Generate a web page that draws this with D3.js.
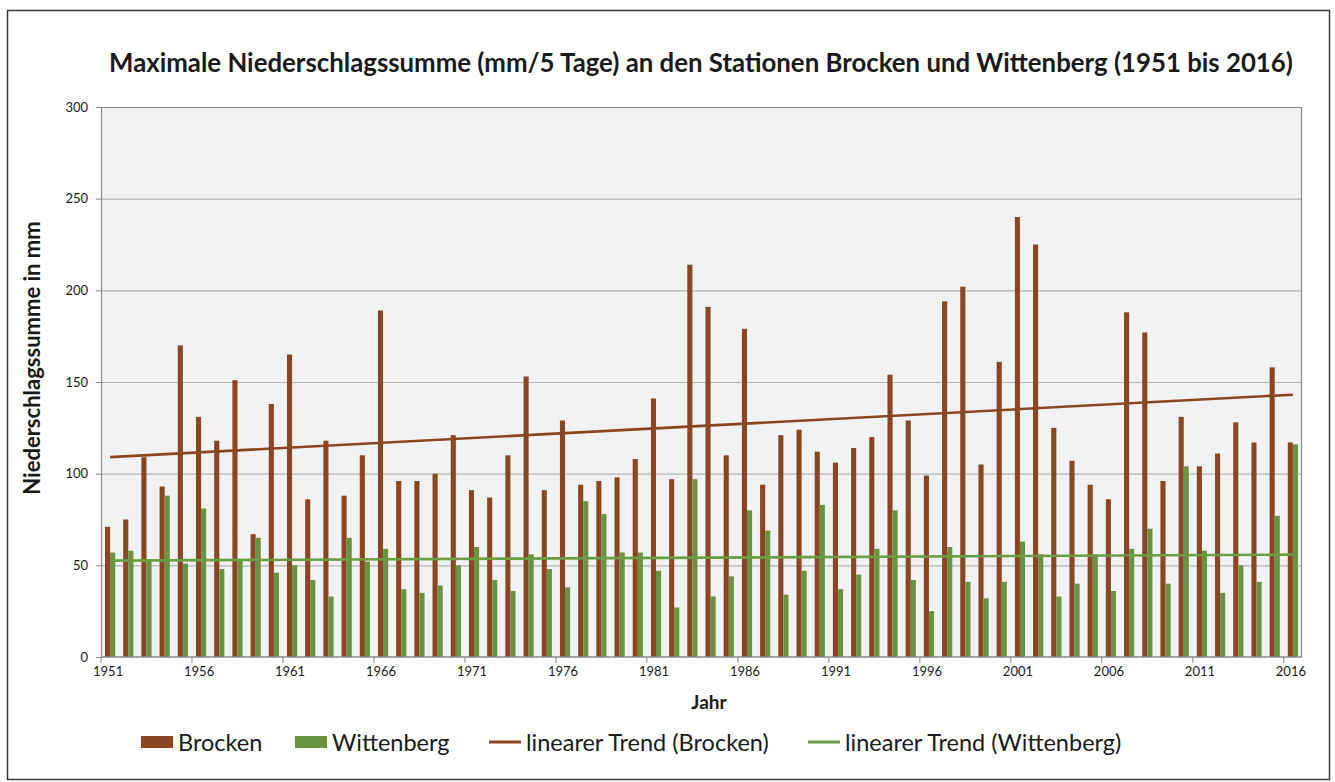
<!DOCTYPE html>
<html>
<head>
<meta charset="utf-8">
<script src="https://cdn.jsdelivr.net/npm/d3@7"></script>
<style>
  body { margin: 0; background: #fff; }
  text { font-family: Lato, "Open Sans", sans-serif; fill: #1a1a1a; }
</style>
</head>
<body>
<svg></svg>
<script>
// Maximale Niederschlagssumme (mm/5 Tage), Brocken und Wittenberg
let years = d3.range(1951, 2017);

let brocken = [
  71, 75, 109, 93, 170, 131, 118, 151, 67, 138,
  165, 86, 118, 88, 110, 189, 96, 96, 100, 121,
  91, 87, 110, 153, 91, 129, 94, 96, 98, 108,
  141, 97, 214, 191, 110, 179, 94, 121, 124, 112,
  106, 114, 120, 154, 129, 99, 194, 202, 105, 161,
  240, 225, 125, 107, 94, 86, 188, 177, 96, 131,
  104, 111, 128, 117, 158, 117
];

let wittenberg = [
  57, 58, 53, 88, 51, 81, 48, 53, 65, 46,
  50, 42, 33, 65, 52, 59, 37, 35, 39, 50,
  60, 42, 36, 56, 48, 38, 85, 78, 57, 57,
  47, 27, 97, 33, 44, 80, 69, 34, 47, 83,
  37, 45, 59, 80, 42, 25, 60, 41, 32, 41,
  63, 56, 33, 40, 56, 36, 59, 70, 40, 104,
  58, 35, 50, 41, 77, 116
];

let yTicks = [0, 50, 100, 150, 200, 250, 300];
let xTickYears = [1951, 1956, 1961, 1966, 1971, 1976, 1981, 1986, 1991, 1996, 2001, 2006, 2011, 2016];
let seriesNames = ["Brocken", "Wittenberg"];
let colors = { Brocken: "#8b4520", Wittenberg: "#679343" };
let trendColors = { Brocken: "#8b4520", Wittenberg: "#6b9d42" };

let width = 1335;
let height = 782;
let plotLeft = 101, plotRight = 1302, plotTop = 107, plotBottom = 657;

let svg = d3.select("svg")
            .attr("width", width)
            .attr("height", height);

// outer frame
svg.append("rect")
    .attr("x", 7.5).attr("y", 10.5)
    .attr("width", 1322).attr("height", 769)
    .attr("fill", "#fff")
    .attr("stroke", "#3a3a3a")
    .attr("stroke-width", 1.5);

let xScale = d3.scaleBand()
                .domain(years)
                .range([plotLeft, plotRight])
                .paddingInner(0.44)
                .paddingOuter(0.22);

let innerScale = d3.scaleBand()
                .domain(seriesNames)
                .range([0, xScale.bandwidth()]);

let yScale = d3.scaleLinear()
                .domain([0, 300])
                .range([plotBottom, plotTop]);

let step = xScale.step();

// plot background
svg.append("rect")
    .attr("x", plotLeft).attr("y", plotTop)
    .attr("width", plotRight - plotLeft).attr("height", plotBottom - plotTop)
    .attr("fill", "#f1f2f4");

// gridlines
let grid = svg.append("g")
    .attr("transform", "translate(" + plotLeft + ", 0)")
    .call(d3.axisLeft(yScale).tickValues(yTicks.slice(1, -1)).tickSize(-(plotRight - plotLeft)).tickFormat(""));
grid.select(".domain").remove();
grid.selectAll(".tick line").attr("stroke", "#b4b4b6").attr("stroke-width", 1.2);

// plot border top + right
svg.append("path")
    .attr("d", "M" + plotLeft + "," + (plotTop + 0.5) + "H" + (plotRight - 0.5) + "V" + plotBottom)
    .attr("fill", "none")
    .attr("stroke", "#8a8a8a")
    .attr("stroke-width", 1.2);

// bars
let rows = years.map((yr, i) => ({ year: yr, Brocken: brocken[i], Wittenberg: wittenberg[i] }));

svg.append("g")
    .selectAll("g")
    .data(rows)
    .enter()
    .append("g")
    .attr("transform", d => "translate(" + xScale(d.year) + ", 0)")
    .selectAll("rect")
    .data(d => seriesNames.map(k => ({ key: k, value: d[k] })))
    .enter()
    .append("rect")
    .attr("x", d => innerScale(d.key))
    .attr("y", d => yScale(d.value))
    .attr("width", innerScale.bandwidth())
    .attr("height", d => yScale(0) - yScale(d.value))
    .attr("fill", d => colors[d.key]);

// linear trends (least squares)
function trend(values) {
  let n = values.length;
  let mx = d3.mean(values, (v, i) => i);
  let my = d3.mean(values);
  let sxy = d3.sum(values, (v, i) => (i - mx) * (v - my));
  let sxx = d3.sum(values, (v, i) => (i - mx) * (i - mx));
  let b = sxy / sxx;
  let a = my - b * mx;
  return [0, n - 1].map(i => ({ year: years[i], value: a + b * i }));
}

let line = d3.line()
    .x(d => xScale(d.year) + xScale.bandwidth() / 2)
    .y(d => yScale(d.value));

[["Brocken", brocken], ["Wittenberg", wittenberg]].forEach(([name, vals]) => {
  svg.append("path")
      .datum(trend(vals))
      .attr("d", line)
      .attr("fill", "none")
      .attr("stroke", trendColors[name])
      .attr("stroke-width", 2.6);
});

// y axis
let yAxis = svg.append("g")
    .attr("transform", "translate(" + plotLeft + ", 0)")
    .call(d3.axisLeft(yScale).tickValues(yTicks).tickSize(5).tickSizeOuter(0).tickPadding(8));
yAxis.select(".domain").attr("stroke", "#8a8a8a").attr("stroke-width", 1.2);
yAxis.selectAll(".tick line").attr("stroke", "#8a8a8a");
yAxis.selectAll("text").style("font-size", "13px").attr("fill", "#1a1a1a");

// x axis
let xAxis = svg.append("g")
    .attr("transform", "translate(0, " + plotBottom + ")")
    .call(d3.axisBottom(xScale).tickValues(xTickYears).tickSize(6).tickSizeOuter(0).tickPadding(4));
xAxis.select(".domain").attr("stroke", "#8a8a8a").attr("stroke-width", 1.4)
    .attr("d", "M" + plotLeft + ",0H" + plotRight);
let tickShift = -xScale.bandwidth() / 2 - step * xScale.paddingInner() / 2;
xAxis.selectAll(".tick line")
    .attr("stroke", "#8a8a8a")
    .attr("x1", tickShift)
    .attr("x2", tickShift);
xAxis.selectAll("text").style("font-size", "13px").attr("fill", "#1a1a1a").attr("dx", "-2");

// titles
svg.append("text")
    .attr("x", 701)
    .attr("y", 72)
    .style("text-anchor", "middle")
    .style("font-size", "25.8px")
    .style("font-weight", "bold")
    .text("Maximale Niederschlagssumme (mm/5 Tage) an den Stationen Brocken und Wittenberg (1951 bis 2016)");

svg.append("text")
    .attr("transform", "rotate(-90)")
    .attr("x", -358)
    .attr("y", 40)
    .style("text-anchor", "middle")
    .style("font-size", "22px")
    .style("font-weight", "bold")
    .text("Niederschlagssumme in mm");

svg.append("text")
    .attr("x", 709)
    .attr("y", 709)
    .style("text-anchor", "middle")
    .style("font-size", "19px")
    .style("font-weight", "bold")
    .text("Jahr");

// legend
let legendItems = [
  { label: "Brocken", type: "box", color: colors.Brocken, x: 141 },
  { label: "Wittenberg", type: "box", color: colors.Wittenberg, x: 295 },
  { label: "linearer Trend (Brocken)", type: "line", color: trendColors.Brocken, x: 489 },
  { label: "linearer Trend (Wittenberg)", type: "line", color: trendColors.Wittenberg, x: 808 }
];

let legend = svg.append("g")
    .selectAll("g")
    .data(legendItems)
    .enter()
    .append("g")
    .attr("transform", d => "translate(" + d.x + ", 742)");

legend.filter(d => d.type === "box")
    .append("rect")
    .attr("x", 0).attr("y", -6)
    .attr("width", 32).attr("height", 12)
    .attr("fill", d => d.color);

legend.filter(d => d.type === "line")
    .append("line")
    .attr("x1", 0).attr("x2", 32)
    .attr("y1", 0).attr("y2", 0)
    .attr("stroke", d => d.color)
    .attr("stroke-width", 3);

legend.append("text")
    .attr("x", 37)
    .attr("y", 8.5)
    .style("font-size", "23.5px")
    .text(d => d.label);
</script>
</body>
</html>
